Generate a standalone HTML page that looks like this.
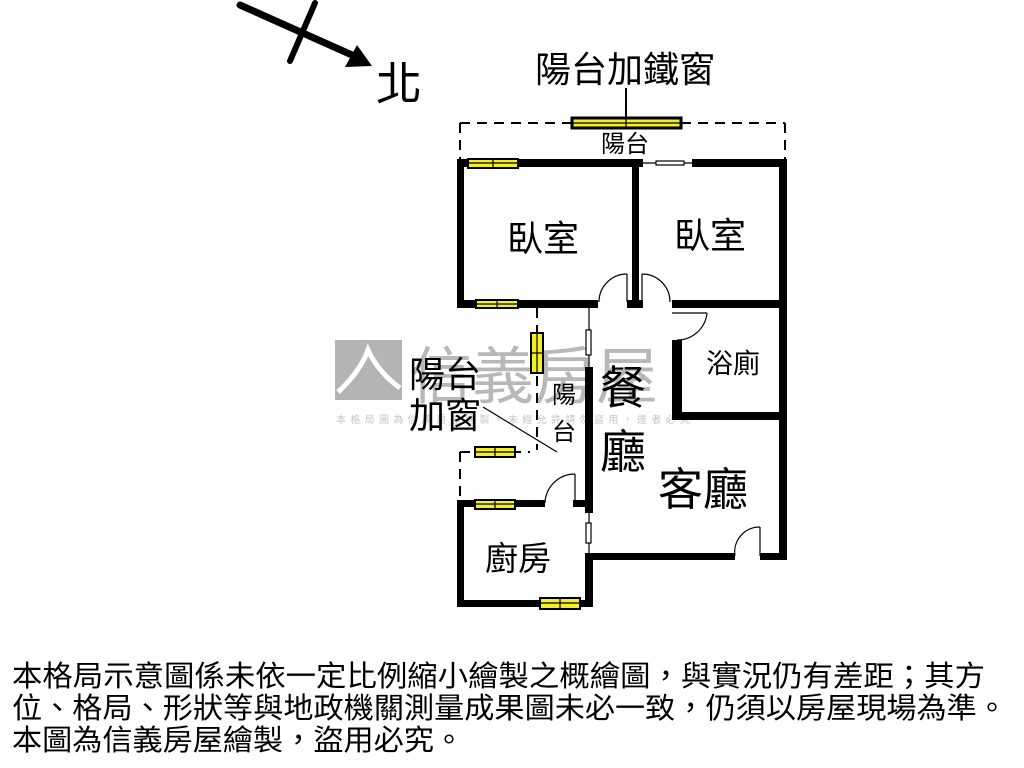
<!DOCTYPE html>
<html><head><meta charset="utf-8"><style>
html,body{margin:0;padding:0;background:#fff;}
svg{display:block;}
text{font-family:"Liberation Sans","Noto Sans CJK TC",sans-serif;fill:#000;}
</style></head><body>
<svg width="1024" height="768" viewBox="0 0 1024 768" xmlns="http://www.w3.org/2000/svg">
<!-- watermark -->
<rect x="335" y="340" width="67" height="60" fill="#b4b4b4"/>
<path d="M338 392 Q360 372 368 350 Q378 372 400 388" stroke="#fff" stroke-width="5" fill="none"/>
<text x="410" y="398" font-size="62" style="fill:#b8b8b8">信義房屋</text>
<text x="336" y="423" font-size="10" style="fill:#c4c4c4" textLength="354">本格局圖為信義房屋繪製，未經允許請勿盜用，違者必究</text>

<!-- compass -->
<line x1="240" y1="5" x2="352" y2="55" stroke="#000" stroke-width="7" stroke-linecap="round"/>
<polygon points="372,66 345,67 357,45" fill="#000"/>
<line x1="315" y1="3" x2="290" y2="61" stroke="#000" stroke-width="6" stroke-linecap="round"/>
<text x="376" y="100" font-size="46">北</text>

<text x="625" y="82" font-size="36" text-anchor="middle">陽台加鐵窗</text>
<line x1="626" y1="88" x2="626" y2="118" stroke="#000" stroke-width="2"/>

<!-- dashed balcony -->
<g stroke="#000" stroke-width="2" stroke-dasharray="10,7" fill="none">
<line x1="460" y1="123" x2="785" y2="123"/>
<line x1="460" y1="123" x2="460" y2="160"/>
<line x1="785" y1="123" x2="785" y2="160"/>
<line x1="537" y1="308" x2="537" y2="450"/>
<line x1="460" y1="452" x2="460" y2="500"/>
<line x1="460" y1="452" x2="530" y2="452"/>
</g>
<text x="625" y="152" font-size="24" text-anchor="middle">陽台</text>

<!-- walls -->
<g fill="#000">
<rect x="457" y="159" width="186" height="8"/>
<rect x="457" y="159" width="7" height="149"/>
<rect x="632" y="159" width="7" height="149"/>
<rect x="692" y="159" width="95" height="8"/>
<rect x="779" y="159" width="8" height="401"/>
<rect x="457" y="300" width="141" height="8"/>
<rect x="627" y="300" width="16" height="8"/>
<rect x="672" y="300" width="115" height="8"/>
<rect x="672" y="340" width="10" height="80"/>
<rect x="672" y="412" width="115" height="8"/>
<rect x="585" y="367" width="8" height="146"/>
<rect x="585" y="553" width="150" height="7"/>
<rect x="760" y="553" width="27" height="7"/>
<rect x="457" y="500" width="88" height="7"/>
<rect x="573" y="500" width="20" height="7"/>
<rect x="457" y="500" width="7" height="107"/>
<rect x="585" y="553" width="8" height="54"/>
<rect x="457" y="600" width="136" height="7"/>
<rect x="583" y="304" width="10" height="4"/>
</g>
<!-- thin lines -->
<g stroke="#000" stroke-width="1.2" fill="none">
<line x1="643" y1="163" x2="692" y2="163"/>
<rect x="656" y="161" width="28" height="4" fill="#fff"/>
<line x1="589" y1="308" x2="589" y2="367"/>
<rect x="586" y="330" width="5" height="25" fill="#fff"/>
<line x1="589" y1="513" x2="589" y2="553"/>
<rect x="586" y="523" width="5" height="20" fill="#fff"/>
<line x1="627" y1="302" x2="627" y2="274"/>
<path d="M627 274 A28 28 0 0 0 599 302"/>
<line x1="642" y1="302" x2="642" y2="274"/>
<path d="M642 274 A28 28 0 0 1 670 302"/>
<line x1="672" y1="313" x2="707" y2="313"/>
<path d="M707 313 A30 30 0 0 1 677 340"/>
<line x1="575" y1="503" x2="575" y2="474"/>
<path d="M575 474 A30 30 0 0 0 545 503"/>
<line x1="760" y1="556" x2="760" y2="527"/>
<path d="M760 527 A25 25 0 0 0 735 556"/>
<line x1="483" y1="407" x2="557" y2="452"/>
</g>

<!-- windows -->
<g stroke="#000" stroke-width="2" fill="#f2ee2a">
<rect x="572" y="118" width="109" height="10" stroke-width="3"/>
<rect x="468" y="159" width="50" height="9"/>
<rect x="476" y="300" width="42" height="8"/>
<rect x="531" y="333" width="12" height="40"/>
<rect x="475" y="447" width="40" height="10"/>
<rect x="475" y="500" width="40" height="9"/>
<rect x="540" y="598" width="40" height="11"/>
</g>
<g stroke="#000" stroke-width="1.2">
<line x1="572" y1="123" x2="681" y2="123"/><line x1="626" y1="118" x2="626" y2="128"/>
<line x1="468" y1="163" x2="518" y2="163"/><line x1="493" y1="159" x2="493" y2="168"/>
<line x1="476" y1="304" x2="518" y2="304"/><line x1="497" y1="300" x2="497" y2="308"/>
<line x1="537" y1="333" x2="537" y2="373"/><line x1="531" y1="353" x2="543" y2="353"/>
<line x1="475" y1="452" x2="515" y2="452"/><line x1="495" y1="447" x2="495" y2="457"/>
<line x1="475" y1="504" x2="515" y2="504"/><line x1="495" y1="500" x2="495" y2="509"/>
<line x1="540" y1="603" x2="580" y2="603"/><line x1="560" y1="598" x2="560" y2="609"/>
</g>

<!-- labels -->
<text x="543" y="251" font-size="36" text-anchor="middle">臥室</text>
<text x="710" y="248" font-size="36" text-anchor="middle">臥室</text>
<text x="733" y="373" font-size="27" text-anchor="middle">浴廁</text>
<text x="623" y="404" font-size="46" text-anchor="middle">餐</text>
<text x="623" y="468" font-size="46" text-anchor="middle">廳</text>
<text x="703" y="505" font-size="45" text-anchor="middle">客廳</text>
<text x="518" y="570" font-size="33" text-anchor="middle">廚房</text>
<text x="564" y="403" font-size="24" text-anchor="middle">陽</text>
<text x="564" y="440" font-size="24" text-anchor="middle">台</text>
<text x="409" y="387" font-size="36">陽台</text>
<text x="409" y="428" font-size="36">加窗</text>

<!-- disclaimer -->
<text x="12" y="686" font-size="29" textLength="973" lengthAdjust="spacingAndGlyphs">本格局示意圖係未依一定比例縮小繪製之概繪圖，與實況仍有差距；其方</text>
<text x="12" y="718" font-size="29" textLength="995" lengthAdjust="spacingAndGlyphs">位、格局、形狀等與地政機關測量成果圖未必一致，仍須以房屋現場為準。</text>
<text x="12" y="750" font-size="29" textLength="452" lengthAdjust="spacingAndGlyphs">本圖為信義房屋繪製，盜用必究。</text>
</svg>
</body></html>
